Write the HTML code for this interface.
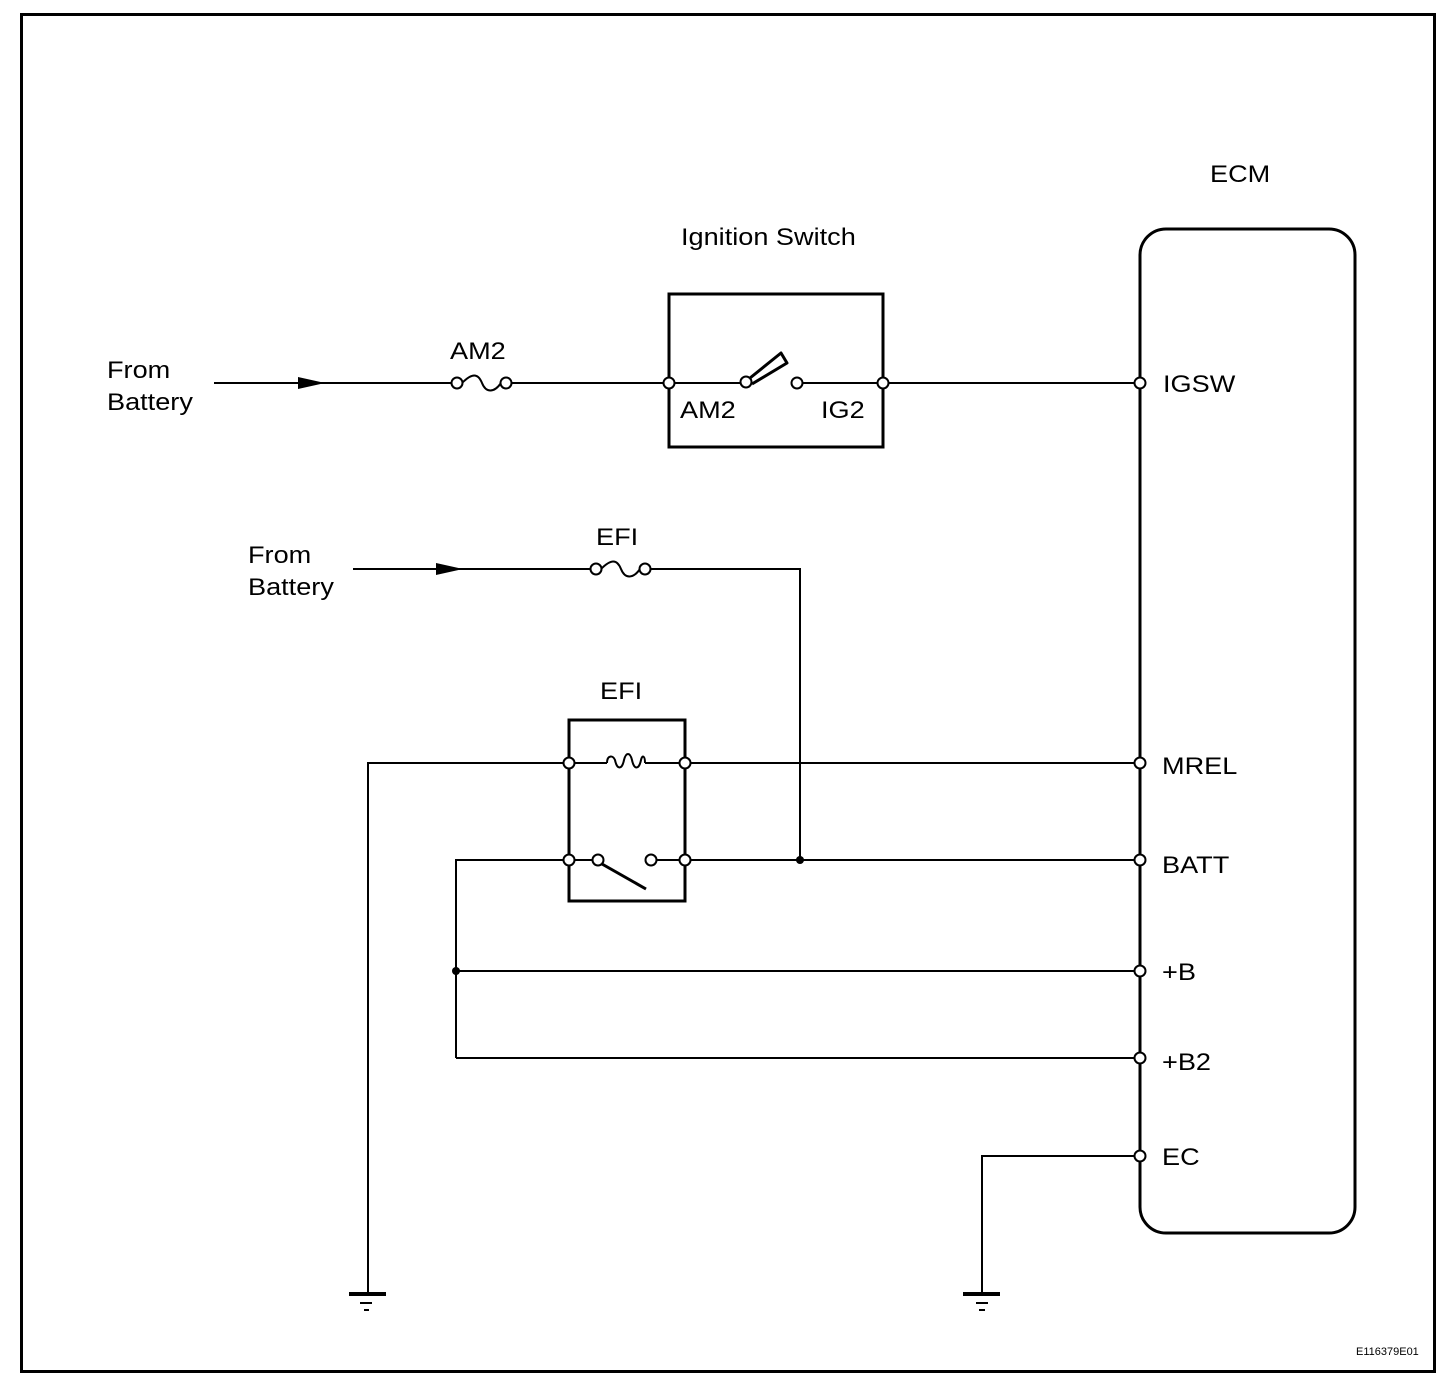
<!DOCTYPE html>
<html><head><style>body{margin:0;background:#fff}svg{display:block}text{font-family:"Liberation Sans",Arial,sans-serif;fill:#000}</style></head><body>
<svg width="1456" height="1386" viewBox="0 0 1456 1386" xmlns="http://www.w3.org/2000/svg">
<rect x="21.5" y="14.5" width="1413" height="1357" fill="none" stroke="#000" stroke-width="3"/>
<g stroke="#000" stroke-width="2" fill="none">
<line x1="214" y1="383" x2="451" y2="383"/>
<line x1="512" y1="383" x2="663" y2="383"/>
<path d="M462 383 C472 373,478 373,482 383 S494 393,501 383"/>
<rect x="669" y="294" width="214" height="153" stroke-width="3"/>
<line x1="669" y1="383" x2="740" y2="383"/>
<line x1="803" y1="383" x2="1134" y2="383"/>
<path d="M750 378 L781 353 L787 363 L752 384" stroke-width="3" stroke-linejoin="round"/>
<rect x="1140" y="229" width="215" height="1004" rx="26" stroke-width="3"/>
<line x1="353" y1="569" x2="590" y2="569"/>
<path d="M601 569 C611 559,617 559,621 569 S633 579,640 569"/>
<polyline points="651,569 800,569 800,860"/>
<rect x="569" y="720" width="116" height="181" stroke-width="3"/>
<polyline points="368,1293 368,763 607,763"/>
<path d="M607 763 C607 755,613 755,615 760 C617 770,622 770,624 760 C626 752,630 752,632 760 C634 770,639 770,641 760 C642 755,645 755,645 763"/>
<line x1="645" y1="763" x2="1134" y2="763"/>
<polyline points="456,1058 456,860 592,860"/>
<line x1="602" y1="864" x2="646" y2="889" stroke-width="3"/>
<line x1="657" y1="860" x2="1134" y2="860"/>
<line x1="456" y1="971" x2="1134" y2="971"/>
<line x1="456" y1="1058" x2="1134" y2="1058"/>
<polyline points="1134,1156 982,1156 982,1293"/>
</g>
<g fill="#000">
<polygon points="298,377 325,383 298,389"/>
<polygon points="436,563 463,569 436,575"/>
<circle cx="800" cy="860" r="4"/><circle cx="456" cy="971" r="4"/>
<rect x="349" y="1292" width="37" height="4"/><rect x="360" y="1302" width="12" height="2"/><rect x="364" y="1309" width="5" height="2"/>
<rect x="963" y="1292" width="37" height="4"/><rect x="976" y="1302" width="12" height="2"/><rect x="979" y="1309" width="6" height="2"/>
</g>
<g fill="#fff" stroke="#000" stroke-width="2">
<circle cx="457" cy="383" r="5.5"/><circle cx="506" cy="383" r="5.5"/>
<circle cx="669" cy="383" r="5.5"/><circle cx="746" cy="382" r="5.5"/><circle cx="797" cy="383" r="5.5"/><circle cx="883" cy="383" r="5.5"/>
<circle cx="596" cy="569" r="5.5"/><circle cx="645" cy="569" r="5.5"/>
<circle cx="569" cy="763" r="5.5"/><circle cx="685" cy="763" r="5.5"/>
<circle cx="569" cy="860" r="5.5"/><circle cx="598" cy="860" r="5.5"/><circle cx="651" cy="860" r="5.5"/><circle cx="685" cy="860" r="5.5"/>
<circle cx="1140" cy="383" r="5.5"/><circle cx="1140" cy="763" r="5.5"/><circle cx="1140" cy="860" r="5.5"/><circle cx="1140" cy="971" r="5.5"/><circle cx="1140" cy="1058" r="5.5"/><circle cx="1140" cy="1156" r="5.5"/>
</g>
<g font-size="24">
<text transform="translate(1210,182) scale(1.13,1)">ECM</text>
<text transform="translate(681,245) scale(1.13,1)">Ignition Switch</text>
<text transform="translate(107,378) scale(1.13,1)">From</text><text transform="translate(107,410) scale(1.13,1)">Battery</text>
<text transform="translate(450,359) scale(1.13,1)">AM2</text>
<text transform="translate(680,418) scale(1.13,1)">AM2</text><text transform="translate(821,418) scale(1.13,1)">IG2</text>
<text transform="translate(1163,392) scale(1.13,1)">IGSW</text>
<text transform="translate(596,545) scale(1.13,1)">EFI</text>
<text transform="translate(248,563) scale(1.13,1)">From</text><text transform="translate(248,595) scale(1.13,1)">Battery</text>
<text transform="translate(600,699) scale(1.13,1)">EFI</text>
<text transform="translate(1162,774) scale(1.13,1)">MREL</text>
<text transform="translate(1162,873) scale(1.13,1)">BATT</text>
<text transform="translate(1162,980) scale(1.13,1)">+B</text>
<text transform="translate(1162,1070) scale(1.13,1)">+B2</text>
<text transform="translate(1162,1165) scale(1.13,1)">EC</text>
</g>
<text x="1356" y="1355" font-size="11">E116379E01</text>
</svg>
</body></html>
